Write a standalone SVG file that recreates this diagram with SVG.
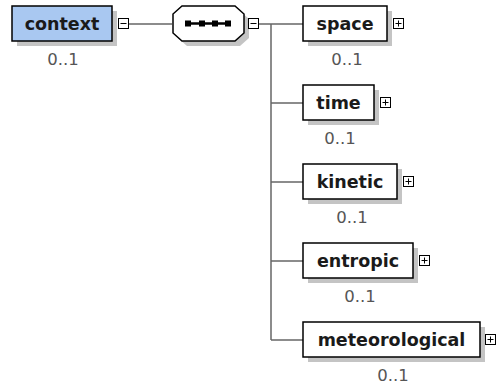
<svg xmlns="http://www.w3.org/2000/svg" width="502" height="389" viewBox="0 0 502 389">
<style>
.bg{fill:#ffffff}
.box{fill:#ffffff;stroke:#000000;stroke-width:1.5}
.ctx{fill:#a9c8f1;stroke:#000000;stroke-width:1.5}
.shadow{fill:#c4c4c4}
.lbl{font-family:"DejaVu Sans",Verdana,sans-serif;font-weight:bold;font-size:17.5px;fill:#1a1a1a;text-anchor:middle}
.occ{font-family:"DejaVu Sans",Verdana,sans-serif;font-size:16.5px;fill:#555555;text-anchor:middle}
.conn{stroke:#666666;stroke-width:1.5;fill:none}
.pm{fill:#ffffff;stroke:#000000;stroke-width:1}
.pmg{stroke:#000000;stroke-width:1}
</style>
<defs>
<g id="minus"><rect class="pm" x="0.5" y="0.5" width="10" height="10"/><line class="pmg" x1="2.5" y1="5.5" x2="8.5" y2="5.5"/></g>
<g id="plus"><rect class="pm" x="0.5" y="0.5" width="10" height="10"/><line class="pmg" x1="2.5" y1="5.5" x2="8.5" y2="5.5"/><line class="pmg" x1="5.5" y1="2.5" x2="5.5" y2="8.5"/></g>
</defs>
<rect class="bg" x="0" y="0" width="502" height="389"/>
<g id="connectors">
<line class="conn" x1="129" y1="24" x2="172" y2="24"/>
<line class="conn" x1="259" y1="24" x2="303" y2="24"/>
<line class="conn" x1="271" y1="24" x2="271" y2="340"/>
<line class="conn" x1="271" y1="103" x2="303" y2="103"/>
<line class="conn" x1="271" y1="182" x2="303" y2="182"/>
<line class="conn" x1="271" y1="261" x2="303" y2="261"/>
<line class="conn" x1="271" y1="340" x2="303" y2="340"/>
</g>
<g id="context">
<rect class="shadow" x="17" y="11" width="100" height="35"/>
<rect class="ctx" x="12" y="6" width="100" height="35"/>
<text class="lbl" x="62" y="30">context</text>
<use href="#minus" x="118" y="18"/>
<text class="occ" x="63" y="65">0..1</text>
</g>
<g id="sequence">
<polygon class="shadow" points="187,11 240,11 249,19 249,38 240,46 187,46 178,38 178,19"/>
<polygon class="box" points="182,6 235,6 244,14 244,33 235,41 182,41 173,33 173,14"/>
<line stroke="#000" stroke-width="2.5" x1="186" y1="23.5" x2="230" y2="23.5"/>
<rect x="185" y="20.5" width="6" height="6" fill="#000"/>
<rect x="199" y="20.5" width="6" height="6" fill="#000"/>
<rect x="212" y="20.5" width="6" height="6" fill="#000"/>
<rect x="225" y="20.5" width="6" height="6" fill="#000"/>
<use href="#minus" x="248" y="18"/>
</g>
<g id="space">
<rect class="shadow" x="308" y="11" width="84" height="35"/>
<rect class="box" x="303" y="6" width="84" height="35"/>
<text class="lbl" x="345" y="30">space</text>
<use href="#plus" x="393" y="18"/>
<text class="occ" x="347" y="65">0..1</text>
</g>
<g id="time">
<rect class="shadow" x="308" y="90" width="71" height="35"/>
<rect class="box" x="303" y="85" width="71" height="35"/>
<text class="lbl" x="338.5" y="109">time</text>
<use href="#plus" x="380" y="97"/>
<text class="occ" x="340" y="144">0..1</text>
</g>
<g id="kinetic">
<rect class="shadow" x="308" y="169" width="94" height="35"/>
<rect class="box" x="303" y="164" width="94" height="35"/>
<text class="lbl" x="350" y="188">kinetic</text>
<use href="#plus" x="403" y="176"/>
<text class="occ" x="352" y="223">0..1</text>
</g>
<g id="entropic">
<rect class="shadow" x="308" y="248" width="110" height="35"/>
<rect class="box" x="303" y="243" width="110" height="35"/>
<text class="lbl" x="358" y="267">entropic</text>
<use href="#plus" x="419" y="255"/>
<text class="occ" x="360" y="302">0..1</text>
</g>
<g id="meteorological">
<rect class="shadow" x="308" y="327" width="177" height="35"/>
<rect class="box" x="303" y="322" width="177" height="35"/>
<text class="lbl" x="391.5" y="346">meteorological</text>
<use href="#plus" x="485" y="334"/>
<text class="occ" x="393" y="381">0..1</text>
</g>
</svg>
